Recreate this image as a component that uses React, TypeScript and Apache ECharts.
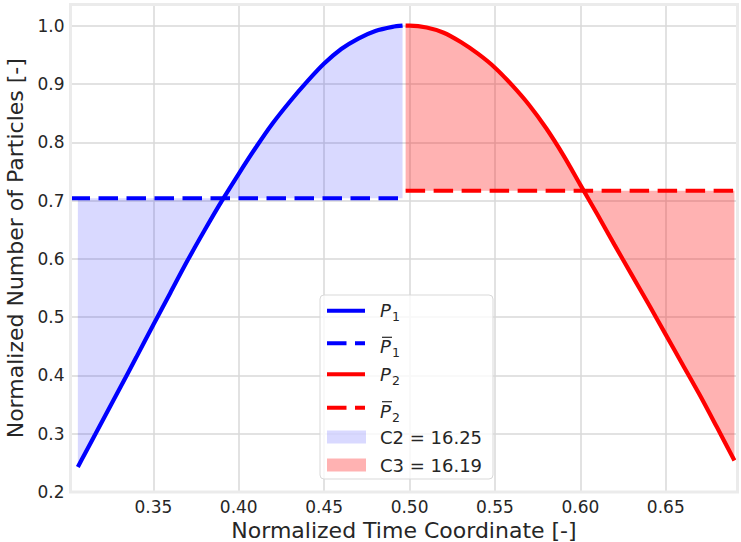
import React, { useEffect, useRef } from "react";
import * as echarts from "echarts";

// First particle curve P1 (rising half) and its mean level
const p1X = [
  0.3058, 0.31, 0.32, 0.33, 0.34, 0.35, 0.36, 0.37, 0.38, 0.39, 0.4, 0.41, 0.42, 0.43, 0.44, 0.45, 0.46, 0.47, 0.48,
  0.49, 0.4959,
];
const p1Y = [
  0.243, 0.266, 0.321, 0.376, 0.431, 0.487, 0.542, 0.597, 0.649, 0.699, 0.746, 0.791, 0.833, 0.87, 0.904, 0.935, 0.96,
  0.978, 0.991, 0.998, 1.0,
];
const p1Mean = 0.704;

// Second particle curve P2 (falling half) and its mean level
const p2X = [
  0.4977, 0.5, 0.51, 0.52, 0.53, 0.54, 0.55, 0.56, 0.57, 0.58, 0.59, 0.6, 0.61, 0.62, 0.63, 0.64, 0.65, 0.66, 0.67,
  0.68, 0.6902,
];
const p2Y = [
  1.0, 1.0, 0.997, 0.988, 0.972, 0.952, 0.928, 0.898, 0.864, 0.824, 0.778, 0.727, 0.676, 0.624, 0.573, 0.522, 0.47,
  0.418, 0.366, 0.311, 0.254,
];
const p2Mean = 0.717;

// Area values reported in the legend
const c2Value = "16.25";
const c3Value = "16.19";

// Axis extents
const xExtent = [0.3015, 0.692];
const yExtent = [0.2, 1.0364];

const FONT = '"DejaVu Sans", "Liberation Sans", sans-serif';
const TEXT = "#262626";
const BLUE = "#0000ff";
const RED = "#ff0000";
const BLUE_FILL = "rgba(0,0,255,0.15)";
const RED_FILL = "rgba(255,0,0,0.3)";
const DASH = [19.5, 8.5];

const zip = (xs: number[], ys: number[]) => xs.map((x, i) => [x, ys[i]]);

function legendGraphic() {
  const hx0 = 327;
  const hx1 = 365;
  const tx = 380;
  const rows = [310.7, 343.3, 374.3, 407.7, 437, 465];
  const els: any[] = [];
  els.push({
    type: "rect",
    shape: { x: 320, y: 295, width: 173, height: 184, r: 4 },
    style: { fill: "rgba(255,255,255,0.8)", stroke: "#d9d9d9", lineWidth: 1 },
    z: 50,
  });
  const handleLine = (y: number, color: string, dashed: boolean) => ({
    type: "line",
    shape: { x1: hx0, y1: y, x2: hx1, y2: y },
    style: { stroke: color, lineWidth: 4, lineDash: dashed ? DASH : null },
    z: 51,
  });
  const mathLabel = (y: number, sub: string, bar: boolean) => {
    const pY = bar ? y + 3.5 : y;
    const out: any[] = [
      {
        type: "text",
        x: tx,
        y: pY,
        style: { text: "P", font: `italic 18px ${FONT}`, fill: TEXT, align: "left", verticalAlign: "middle" },
        z: 52,
      },
      {
        type: "text",
        x: tx + 12,
        y: pY + 6,
        style: { text: sub, font: `12.5px ${FONT}`, fill: TEXT, align: "left", verticalAlign: "middle" },
        z: 52,
      },
    ];
    if (bar) {
      out.push({
        type: "line",
        shape: { x1: tx + 2, y1: pY - 9.5, x2: tx + 12, y2: pY - 9.5 },
        style: { stroke: TEXT, lineWidth: 1.2 },
        z: 52,
      });
    }
    return out;
  };
  els.push(handleLine(rows[0], BLUE, false), ...mathLabel(rows[0], "1", false));
  els.push(handleLine(rows[1], BLUE, true), ...mathLabel(rows[1], "1", true));
  els.push(handleLine(rows[2], RED, false), ...mathLabel(rows[2], "2", false));
  els.push(handleLine(rows[3], RED, true), ...mathLabel(rows[3], "2", true));
  const patch = (y: number, fill: string, label: string) => [
    { type: "rect", shape: { x: hx0, y: y - 6.5, width: hx1 - hx0 + 1, height: 13 }, style: { fill }, z: 51 },
    {
      type: "text",
      x: tx,
      y,
      style: { text: label, font: `18px ${FONT}`, fill: TEXT, align: "left", verticalAlign: "middle" },
      z: 52,
    },
  ];
  els.push(...patch(rows[4], BLUE_FILL, `C2 = ${c2Value}`));
  els.push(...patch(rows[5], RED_FILL, `C3 = ${c3Value}`));
  return els;
}

export default function App() {
  const ref = useRef<HTMLDivElement>(null);

  useEffect(() => {
    document.body.style.margin = "0";
    if (!ref.current) return;
    const chart = echarts.init(ref.current, null, { renderer: "svg" });
    const gridLeft = 70.5;
    const gridTop = 4.5;
    const gridRight = 741 - 737.5;
    const gridBottom = 542 - 492;

    chart.setOption({
      animation: false,
      backgroundColor: "#ffffff",
      grid: {
        left: gridLeft,
        top: gridTop,
        right: gridRight,
        bottom: gridBottom,
        containLabel: false,
        outerBoundsMode: "none",
      },
      xAxis: {
        type: "value",
        min: xExtent[0],
        max: xExtent[1],
        splitNumber: 8,
        name: "Normalized Time Coordinate [-]",
        nameLocation: "middle",
        nameGap: 21,
        nameTextStyle: { fontFamily: FONT, fontSize: 22, color: TEXT },
        axisLine: { show: false },
        axisTick: { show: false },
        axisLabel: {
          margin: 6,
          fontFamily: FONT,
          fontSize: 17,
          color: TEXT,
          showMinLabel: false,
          showMaxLabel: false,
          formatter: (v: number) => v.toFixed(2),
        },
        splitLine: { show: true, lineStyle: { color: "#d9d9d9", width: 1.5 } },
      },
      yAxis: {
        type: "value",
        min: yExtent[0],
        max: yExtent[1],
        interval: 0.1,
        name: "Normalized Number of Particles [-]",
        nameLocation: "middle",
        nameGap: 41,
        nameTextStyle: { fontFamily: FONT, fontSize: 22, color: TEXT },
        axisLine: { show: false },
        axisTick: { show: false },
        axisLabel: {
          margin: 6,
          fontFamily: FONT,
          fontSize: 17,
          color: TEXT,
          showMaxLabel: false,
          formatter: (v: number) => v.toFixed(1),
        },
        splitLine: { show: true, lineStyle: { color: "#d9d9d9", width: 1.5 } },
      },
      series: [
        {
          name: "P1",
          type: "line",
          data: zip(p1X, p1Y),
          smooth: 0.3,
          showSymbol: false,
          lineStyle: { color: BLUE, width: 4.2 },
          areaStyle: { color: BLUE_FILL, origin: p1Mean, opacity: 1 },
          z: 3,
        },
        {
          name: "P1 mean",
          type: "line",
          data: [
            [xExtent[0], p1Mean],
            [p1X[p1X.length - 1], p1Mean],
          ],
          showSymbol: false,
          lineStyle: { color: BLUE, width: 4, type: DASH },
          z: 4,
        },
        {
          name: "P2",
          type: "line",
          data: zip(p2X, p2Y),
          smooth: 0.3,
          showSymbol: false,
          lineStyle: { color: RED, width: 4.2 },
          areaStyle: { color: RED_FILL, origin: p2Mean, opacity: 1 },
          z: 5,
        },
        {
          name: "P2 mean",
          type: "line",
          data: [
            [p2X[0], p2Mean],
            [xExtent[1], p2Mean],
          ],
          showSymbol: false,
          lineStyle: { color: RED, width: 4, type: DASH },
          z: 6,
        },
      ],
      graphic: [
        {
          type: "rect",
          shape: { x: gridLeft, y: gridTop, width: 741 - gridRight - gridLeft, height: 542 - gridBottom - gridTop },
          style: { fill: "none", stroke: "#ebebeb", lineWidth: 3 },
          silent: true,
          z: 40,
        },
        ...legendGraphic(),
      ],
    });

    return () => chart.dispose();
  }, []);

  return <div ref={ref} style={{ width: 741, height: 542 }} />;
}
